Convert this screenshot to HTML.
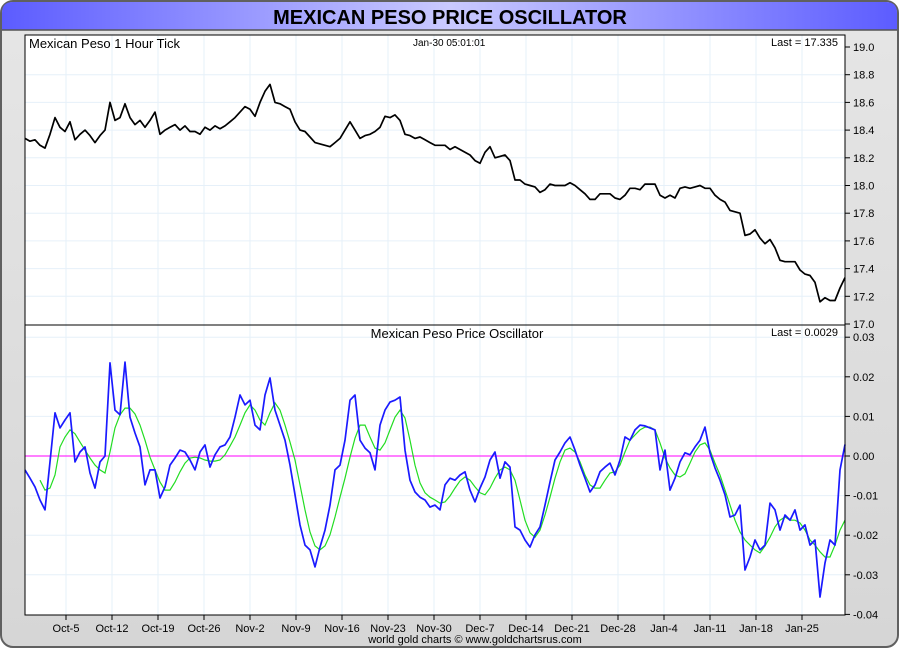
<!DOCTYPE html>
<html><head><meta charset="utf-8"><title>Mexican Peso Price Oscillator</title>
<style>html,body{margin:0;padding:0;background:#fff;}svg{display:block;font-family:"Liberation Sans",sans-serif;}</style>
</head><body>
<svg id="chart" width="900" height="650" viewBox="0 0 900 650">
<defs>
<linearGradient id="tg" x1="0" x2="1" y1="0" y2="0"><stop offset="0" stop-color="#5c5cff"/><stop offset="0.5" stop-color="#cacaff"/><stop offset="1" stop-color="#5c5cff"/></linearGradient>
<linearGradient id="bg" x1="0" x2="0" y1="0" y2="1"><stop offset="0" stop-color="#e6e6e6"/><stop offset="1" stop-color="#d6d6d6"/></linearGradient>
</defs>
<rect x="1" y="1" width="897" height="646" rx="12" fill="url(#bg)" stroke="#606060" stroke-width="2"/>
<path d="M2,30 L2,13 Q2,2 13,2 L886,2 Q897,2 897,13 L897,30 Z" fill="url(#tg)"/>
<line x1="2" y1="30" x2="897" y2="30" stroke="#555" stroke-width="1.5"/>
<text x="450" y="24" text-anchor="middle" font-size="20" font-weight="bold" fill="#000">MEXICAN PESO PRICE OSCILLATOR</text>
<rect x="25" y="35" width="820" height="290" fill="#fff"/>
<rect x="25" y="325" width="820" height="290" fill="#fff"/>
<g id="grid"></g>
<g id="series"></g>
<rect x="25" y="35" width="820" height="290" fill="none" stroke="#000" stroke-width="1"/>
<rect x="25" y="325" width="820" height="290" fill="none" stroke="#000" stroke-width="1"/>
<g id="axes" font-size="11" fill="#000"></g>
<text x="29" y="48" font-size="13">Mexican Peso 1 Hour Tick</text>
<text x="413" y="46" font-size="10">Jan-30  05:01:01</text>
<text x="838" y="46" font-size="11" text-anchor="end">Last = 17.335</text>
<text x="457" y="338" font-size="13" text-anchor="middle">Mexican Peso Price Oscillator</text>
<text x="838" y="336" font-size="11" text-anchor="end">Last = 0.0029</text>
<text x="475" y="643" font-size="11" text-anchor="middle">world gold charts © www.goldchartsrus.com</text>
</svg>
<script>
const weekLabels = ["Oct-5","Oct-12","Oct-19","Oct-26","Nov-2","Nov-9","Nov-16","Nov-23","Nov-30","Dec-7","Dec-14","Dec-21","Dec-28","Jan-4","Jan-11","Jan-18","Jan-25"];
const priceTicks = [19.0,18.8,18.6,18.4,18.2,18.0,17.8,17.6,17.4,17.2,17.0];
const oscTicks = [0.03,0.02,0.01,0.00,-0.01,-0.02,-0.03,-0.04];
const oscTickLabels = ["0.03","0.02","0.01","0.00","-0.01","-0.02","-0.03","-0.04"];
const price = [18.34,18.32,18.33,18.29,18.27,18.37,18.49,18.42,18.39,18.46,18.33,18.37,18.40,18.36,18.31,18.36,18.40,18.60,18.47,18.49,18.59,18.49,18.44,18.47,18.42,18.47,18.53,18.37,18.40,18.42,18.44,18.40,18.43,18.39,18.39,18.37,18.42,18.40,18.43,18.41,18.43,18.46,18.49,18.53,18.57,18.55,18.50,18.60,18.68,18.73,18.60,18.59,18.57,18.55,18.46,18.40,18.39,18.35,18.31,18.30,18.29,18.28,18.31,18.34,18.40,18.46,18.40,18.34,18.36,18.37,18.39,18.42,18.50,18.49,18.51,18.47,18.37,18.36,18.34,18.35,18.33,18.31,18.29,18.29,18.29,18.26,18.28,18.26,18.24,18.22,18.18,18.16,18.24,18.28,18.20,18.21,18.22,18.18,18.04,18.04,18.01,18.00,17.99,17.95,17.97,18.01,18.00,18.00,18.00,18.02,18.00,17.97,17.94,17.90,17.90,17.94,17.94,17.94,17.91,17.90,17.93,17.98,17.98,17.97,18.01,18.01,18.01,17.93,17.91,17.93,17.91,17.98,17.99,17.98,17.99,18.00,17.98,17.98,17.93,17.90,17.88,17.82,17.81,17.80,17.64,17.65,17.68,17.62,17.58,17.61,17.55,17.46,17.45,17.45,17.45,17.39,17.36,17.35,17.30,17.16,17.19,17.17,17.17,17.26,17.335];
const oscillator = [-3.5,-5.6,-7.8,-11.1,-13.6,-1.5,10.9,7.1,9.1,10.9,-1.5,1.0,2.3,-4.3,-8.1,-1.5,0,23.5,11.6,10.4,23.7,9.8,5.8,2.3,-7.3,-3.5,-3.5,-10.6,-7.8,-2.3,-0.5,1.5,1.0,-1.0,-3.5,1.0,2.8,-2.8,0.3,2.3,2.8,4.8,9.8,15.4,12.9,14.1,7.8,6.6,15.4,19.7,11.6,7.8,4.0,-2.3,-9.8,-17.4,-22.5,-23.7,-28.0,-23.0,-18.7,-12.4,-3.5,-2.3,4.0,14.1,15.4,4.0,2.0,0.8,-3.5,7.8,11.6,13.6,14.1,14.9,1.5,-6.1,-9.1,-10.4,-11.1,-12.9,-12.4,-13.6,-7.3,-5.6,-6.1,-4.8,-4.0,-8.6,-11.6,-8.1,-5.3,-1.0,1.0,-5.6,-1.5,-2.8,-17.9,-18.7,-21.2,-23.0,-19.9,-17.9,-12.4,-6.6,-1.0,1.0,3.3,4.8,1.5,-2.3,-5.6,-9.1,-7.3,-4.0,-2.8,-1.8,-4.8,-1.0,4.8,4.0,6.6,7.8,7.6,7.1,6.6,-3.5,1.5,-8.6,-5.6,-1.5,0.8,0.3,2.3,4.0,7.3,0.8,-3.0,-6.1,-9.8,-15.4,-14.9,-12.4,-28.8,-25.5,-21.2,-23.7,-22.5,-11.9,-13.6,-18.7,-14.9,-16.2,-13.6,-18.7,-17.4,-22.5,-21.2,-35.6,-27.0,-21.2,-22.5,-3.5,2.9];
const signal = [null,null,null,-6.1,-8.6,-8.1,-4.8,2.3,4.8,6.6,5.6,3.5,1.5,-0.5,-2.3,-3.5,-4.3,1.0,7.1,10.4,12.1,12.1,10.6,7.8,4.0,-0.3,-3.5,-6.6,-8.6,-8.6,-6.6,-4.0,-1.8,-0.5,-0.3,-0.5,-1.0,-1.3,-1.3,-1.0,0.3,2.5,4.8,7.8,10.9,12.9,11.6,9.1,7.8,10.9,13.4,11.6,7.8,3.5,-1.0,-7.3,-13.6,-19.2,-22.7,-23.7,-22.7,-19.9,-15.4,-10.4,-5.6,-0.3,4.5,7.8,7.8,4.8,2.0,1.5,3.3,6.6,9.8,11.6,9.6,4.0,-2.3,-6.8,-9.3,-10.4,-11.1,-11.9,-11.6,-10.1,-8.1,-6.3,-5.3,-6.1,-7.8,-9.3,-9.8,-8.1,-5.6,-3.5,-2.8,-3.5,-6.1,-11.1,-16.2,-19.4,-20.5,-18.7,-14.9,-10.4,-5.6,-1.5,1.5,2.0,1.0,-1.5,-4.8,-7.3,-8.1,-8.1,-6.1,-4.3,-4.0,-2.3,1.0,4.0,5.3,6.6,7.3,7.3,6.6,3.3,-0.5,-3.0,-4.8,-5.3,-4.5,-1.8,1.0,2.8,3.3,1.5,-1.8,-4.8,-8.6,-12.4,-16.2,-19.2,-21.2,-22.5,-23.7,-24.5,-22.7,-20.5,-17.9,-16.2,-15.4,-16.2,-16.2,-16.9,-18.7,-21.2,-22.5,-24.2,-25.5,-25.5,-22.5,-18.7,-16.2];

const NS = "http://www.w3.org/2000/svg";
const X0 = 25, X1 = 845;
function xIdx(i, n){ return X0 + (X1 - X0) * i / (n - 1); }
function xWeek(k){ return 66 + 46 * k; }
function yPrice(v){ return 47 + (19 - v) * 138.5; }
function yOsc(v){ return 456 - v * 3960; }
function mk(tag, attrs, parent){ const e = document.createElementNS(NS, tag); for (const k in attrs) e.setAttribute(k, attrs[k]); parent.appendChild(e); return e; }

const grid = document.getElementById('grid');
const axes = document.getElementById('axes');
const series = document.getElementById('series');

weekLabels.forEach((lab, k) => {
  const x = xWeek(k);
  const g1 = mk('line', {x1:x, y1:35, x2:x, y2:615, stroke:'#e6f0f9', 'stroke-width':1}, grid);
  
  
  mk('line', {x1:x, y1:615, x2:x, y2:620, stroke:'#000'}, axes);
  const t = mk('text', {x:x, y:632, 'text-anchor':'middle'}, axes);
  t.textContent = lab;
  
  
});
priceTicks.forEach(v => {
  const y = yPrice(v);
  if (v < 19 && v > 17) {
    const gl = mk('line', {x1:25, y1:y, x2:845, y2:y, stroke:'#e6f0f9'}, grid);
    
    
  }
  mk('line', {x1:845, y1:y, x2:850, y2:y, stroke:'#000'}, axes);
  const t = mk('text', {x:853, y:y + 4}, axes);
  t.textContent = v.toFixed(1);
  
  
});
oscTicks.forEach((v, i) => {
  const y = yOsc(v);
  if (v !== 0 && v > -0.04) {
    const gl = mk('line', {x1:25, y1:y, x2:845, y2:y, stroke:'#e6f0f9'}, grid);
    
    
  }
  mk('line', {x1:845, y1:y, x2:850, y2:y, stroke:'#000'}, axes);
  const t = mk('text', {x:853, y:y + 4}, axes);
  t.textContent = oscTickLabels[i];
  
  
});

function pathFrom(arr, xf, yf){
  let d = '', pen = false;
  arr.forEach((v, i) => {
    if (v === null) { pen = false; return; }
    d += (pen ? 'L' : 'M') + xf(i, arr.length).toFixed(1) + ',' + yf(v).toFixed(1);
    pen = true;
  });
  return d;
}
const zero = mk('line', {x1:25, y1:yOsc(0), x2:845, y2:yOsc(0), stroke:'#ff33ff', 'stroke-width':1.3}, series);


const pl = mk('path', {d:pathFrom(price, xIdx, yPrice), fill:'none', stroke:'#000', 'stroke-width':1.7, 'stroke-linejoin':'round'}, series);


const sl = mk('path', {d:pathFrom(signal, xIdx, v => yOsc(v / 1000)), fill:'none', stroke:'#22dd22', 'stroke-width':1.2}, series);


const ol = mk('path', {d:pathFrom(oscillator, xIdx, v => yOsc(v / 1000)), fill:'none', stroke:'#1a1aff', 'stroke-width':1.7, 'stroke-linejoin':'round'}, series);


</script>
</body></html>
